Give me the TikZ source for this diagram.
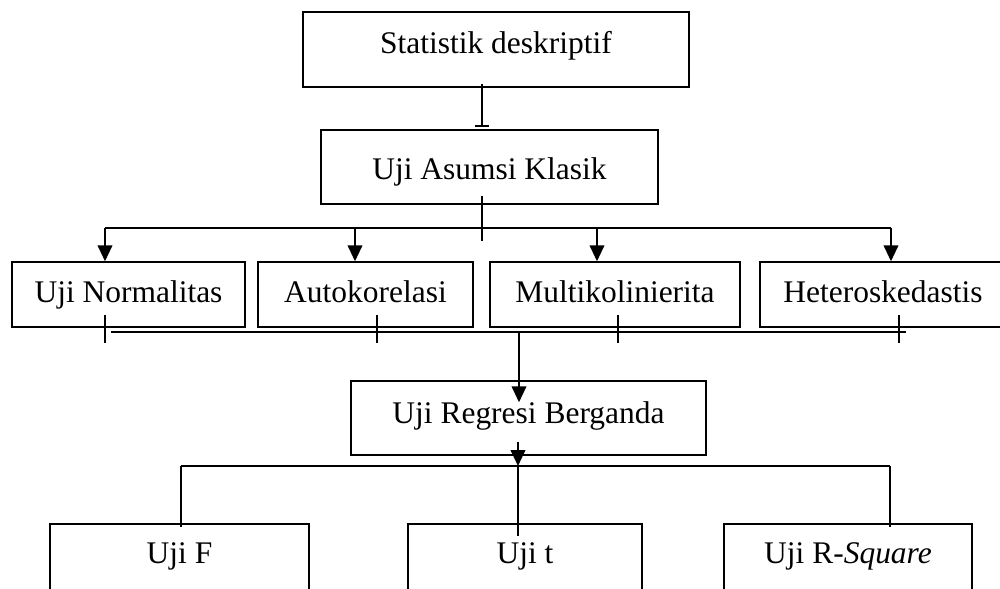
\documentclass[tikz,border=0pt]{standalone}
\usepackage{fontspec}
\setmainfont{Liberation Serif}
\usetikzlibrary{arrows.meta,calc}

\begin{document}
\begin{tikzpicture}[x=0.75pt, y=-0.75pt,
    kotak/.style={draw, line width=1.1pt, inner sep=0pt, anchor=base,
        font=\fontsize{23.6pt}{28pt}\selectfont},
    garis/.style={line width=1.4pt},
    tipis/.style={line width=1pt},
    panah/.style={garis, -{Triangle[length=12pt, width=11pt]}}]

    \useasboundingbox (0,0) rectangle (1000,589);
    \clip (0,0) rectangle (1000,589);

    % --- Kotak ---
    \node[kotak, minimum width=289.5pt, text height=30.75pt, text depth=25.5pt] (stat) at (496,53) {Statistik deskriptif};
    \node[kotak, minimum width=252.75pt, text height=36.75pt, text depth=18.75pt] (asumsi) at (489.5,179) {Uji Asumsi Klasik};

    \node[kotak, minimum width=174.75pt, text height=30pt, text depth=18.75pt] (norm) at (128.5,302) {Uji Normalitas};
    \node[kotak, minimum width=161.25pt, text height=30pt, text depth=18.75pt] (auto) at (365.5,302) {Autokorelasi};
    \node[kotak, minimum width=187.5pt, text height=30pt, text depth=18.75pt] (multi) at (615,302) {Multikolinierita};
    \node[kotak, minimum width=184.5pt, text height=30pt, text depth=18.75pt] (hetero) at (883,302) {Heteroskedastis};

    \node[kotak, minimum width=266.25pt, text height=31.5pt, text depth=24pt] (regresi) at (528.5,423) {Uji Regresi Berganda};

    \node[kotak, minimum width=194.25pt, text height=29.25pt, text depth=52.5pt] (ujif) at (179.5,563) {Uji F};
    \node[kotak, minimum width=175.5pt, text height=29.25pt, text depth=52.5pt] (ujit) at (525,563) {Uji t};
    \node[kotak, minimum width=186pt, text height=29.25pt, text depth=52.5pt] (ujir) at (848,563) {Uji R-\textit{Square}};

    % --- Statistik ke asumsi ---
    \coordinate (spine) at (482,0);
    \draw[garis, -{Rectangle[length=1.5pt, width=11pt]}] ([yshift=3pt]stat.south -| spine) -- ([yshift=1.5pt]asumsi.north -| spine);

    % --- Cabang uji asumsi ---
    \draw[tipis] ([yshift=6.75pt]asumsi.south -| spine) -- ++(0,45);
    \coordinate (tn) at (105,228);
    \coordinate (ta) at (355,228);
    \coordinate (tm) at (597,228);
    \coordinate (th) at (891,228);
    \draw[garis] (tn) -- (th);
    \foreach \t/\n in {tn/norm, ta/auto, tm/multi, th/hetero}
        \draw[panah] (\t) -- (\t |- \n.north);

    % --- Gabungan ke regresi ---
    \foreach \x in {105, 377, 618, 899}
        \draw[tipis] (\x,315) -- (\x,343);
    \coordinate (gkiri) at (111,332);
    \coordinate (gkanan) at (906,332);
    \coordinate (turun) at (519,332);
    \draw[garis] (gkiri) -- (gkanan);
    \draw[panah] (turun) -- ([yshift=-16.5pt]regresi.north -| turun);

    % --- Cabang uji regresi ---
    \coordinate (bawah) at (518,466);
    \coordinate (bkiri) at (181,466);
    \coordinate (bkanan) at (890,466);
    \draw[panah] ([yshift=10.5pt]regresi.south -| bawah) -- (bawah);
    \draw[tipis] (bkiri) -- (bkanan);
    \draw[tipis] (bkiri) -- ([yshift=-3pt]ujif.north -| bkiri);
    \draw[tipis] (bawah) -- ([yshift=-9.75pt]ujit.north -| bawah);
    \draw[tipis] (bkanan) -- ([yshift=-3pt]ujir.north -| bkanan);

\end{tikzpicture}
\end{document}
